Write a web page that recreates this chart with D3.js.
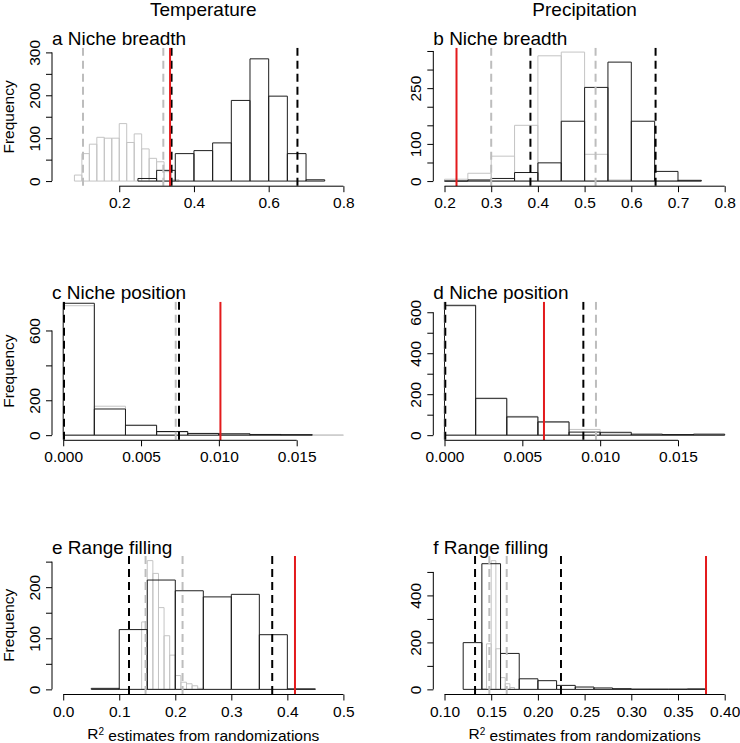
<!DOCTYPE html>
<html>
<head>
<meta charset="utf-8">
<script src="https://cdnjs.cloudflare.com/ajax/libs/d3/7.8.5/d3.min.js"></script>
<style>
  body { margin: 0; background: #fff; }
  text { font-family: "Liberation Sans", Arial, sans-serif; fill: #000; }
</style>
</head>
<body>
<svg id="chart" width="740" height="743"></svg>
<script>
// ---- a: Temperature, niche breadth
const aXlim = [0.05, 0.8], aYlim = [0, 299];
const aBlackBreaks = [0.25, 0.30, 0.35, 0.40, 0.45, 0.50, 0.55, 0.60, 0.65, 0.70, 0.75];
const aBlackCounts = [6, 25, 64, 71, 89, 188, 285, 198, 64, 3];
const aGrayBreaks = [0.08, 0.10, 0.12, 0.14, 0.16, 0.18, 0.20, 0.22, 0.24, 0.26, 0.28, 0.30, 0.32, 0.34, 0.36];
const aGrayCounts = [14, 64, 86, 102, 100, 100, 134, 90, 110, 75, 53, 45, 22, 3];
const aGrayQ = [0.103, 0.318], aBlackQ = [0.340, 0.677], aObs = 0.336;
const aXTicks = [0.2, 0.4, 0.6, 0.8], aXLabels = ["0.2", "0.4", "0.6", "0.8"];
const aYTicks = [0, 50, 100, 150, 200, 250, 300], aYLabels = [0, 100, 200, 300];

// ---- b: Precipitation, niche breadth
const bXlim = [0.2, 0.8], bYlim = [0, 345];
const bBreaks = [0.20, 0.25, 0.30, 0.35, 0.40, 0.45, 0.50, 0.55, 0.60, 0.65, 0.70, 0.75];
const bBlackCounts = [0, 3, 7, 23, 49, 161, 252, 320, 161, 26, 2];
const bGrayCounts = [5, 21, 67, 150, 337, 347, 72, 3, 0, 0, 0];
const bGrayQ = [0.300, 0.5235], bBlackQ = [0.384, 0.652], bObs = 0.2257;
const bXTicks = [0.2, 0.3, 0.4, 0.5, 0.6, 0.7, 0.8], bXLabels = ["0.2", "0.3", "0.4", "0.5", "0.6", "0.7", "0.8"];
const bYTicks = [0, 50, 100, 150, 200, 250, 300, 350], bYLabels = [0, 100, 250];

// ---- c: Temperature, niche position
const cXlim = [0, 0.018], cYlim = [0, 735];
const cBlackBreaks = [0, 0.002, 0.004, 0.006, 0.008, 0.010, 0.012, 0.014, 0.016];
const cBlackCounts = [756, 150, 57, 21, 10, 8, 4, 3];
const cGrayBreaks = [0, 0.002, 0.004, 0.006, 0.008, 0.010, 0.012, 0.014, 0.016, 0.018];
const cGrayCounts = [742, 166, 55, 18, 9, 4, 2, 1, 1];
const cGrayQ = [0.0, 0.00723], cBlackQ = [0.00005, 0.00744], cObs = 0.0101;
const cXTicks = [0, 0.005, 0.010, 0.015], cXLabels = ["0.000", "0.005", "0.010", "0.015"];
const cYTicks = [0, 200, 400, 600], cYLabels = [0, 200, 600];

// ---- d: Precipitation, niche position
const dXlim = [0, 0.018], dYlim = [0, 626];
const dBreaks = [0, 0.002, 0.004, 0.006, 0.008, 0.010, 0.012, 0.014, 0.016, 0.018];
const dBlackCounts = [634, 180, 89, 65, 15, 14, 5, 3, 5];
const dGrayCounts = [630, 178, 92, 62, 28, 6, 0, 0, 0];
const dGrayQ = [0.0, 0.00973], dBlackQ = [0.00005, 0.00892], dObs = 0.00639;
const dXTicks = [0, 0.005, 0.010, 0.015], dXLabels = ["0.000", "0.005", "0.010", "0.015"];
const dYTicks = [0, 100, 200, 300, 400, 500, 600], dYLabels = [0, 200, 400, 600];

// ---- e: Temperature, range filling
const eXlim = [0, 0.5], eYlim = [0, 251];
const eBlackBreaks = [0.05, 0.10, 0.15, 0.20, 0.25, 0.30, 0.35, 0.40, 0.45];
const eBlackCounts = [2, 117, 214, 193, 181, 186, 107, 1];
const eGrayBreaks = [0.14, 0.15, 0.16, 0.17, 0.18, 0.19, 0.20, 0.21, 0.22, 0.23, 0.24, 0.25];
const eGrayCounts = [132, 252, 227, 160, 105, 67, 27, 14, 11, 7, 2];
const eGrayQ = [0.147, 0.213], eBlackQ = [0.1174, 0.373], eObs = 0.4136;
const eXTicks = [0, 0.1, 0.2, 0.3, 0.4, 0.5], eXLabels = ["0.0", "0.1", "0.2", "0.3", "0.4", "0.5"];
const eYTicks = [0, 50, 100, 150, 200, 250], eYLabels = [0, 100, 200];

// ---- f: Precipitation, range filling
const fXlim = [0.1, 0.4], fYlim = [0, 546];
const fBlackBreaks = [0.12, 0.14, 0.16, 0.18, 0.20, 0.22, 0.24, 0.26, 0.28, 0.30, 0.32, 0.34, 0.36, 0.38];
const fBlackCounts = [199, 535, 153, 45, 37, 17, 10, 6, 3, 1, 1, 1, 2];
const fGrayBreaks = [0.14, 0.145, 0.15, 0.155, 0.16, 0.165, 0.17, 0.175];
const fGrayCounts = [3, 194, 548, 173, 50, 24, 8];
const fGrayQ = [0.148, 0.1666], fBlackQ = [0.1327, 0.2247], fObs = 0.380;
const fXTicks = [0.10, 0.15, 0.20, 0.25, 0.30, 0.35, 0.40];
const fXLabels = ["0.10", "0.15", "0.20", "0.25", "0.30", "0.35", "0.40"];
const fYTicks = [0, 100, 200, 300, 400, 500], fYLabels = [0, 200, 400];

const colTitles = ["Temperature", "Precipitation"];

const panels = [
    { title: "a Niche breadth", col: 0, row: 0, xlim: aXlim, ylim: aYlim,
      black: [aBlackBreaks, aBlackCounts], gray: [aGrayBreaks, aGrayCounts],
      grayQ: aGrayQ, blackQ: aBlackQ, obs: aObs,
      xTicks: aXTicks, xLabels: aXLabels, yTicks: aYTicks, yLabels: aYLabels },
    { title: "b Niche breadth", col: 1, row: 0, xlim: bXlim, ylim: bYlim,
      black: [bBreaks, bBlackCounts], gray: [bBreaks, bGrayCounts],
      grayQ: bGrayQ, blackQ: bBlackQ, obs: bObs,
      xTicks: bXTicks, xLabels: bXLabels, yTicks: bYTicks, yLabels: bYLabels },
    { title: "c Niche position", col: 0, row: 1, xlim: cXlim, ylim: cYlim,
      black: [cBlackBreaks, cBlackCounts], gray: [cGrayBreaks, cGrayCounts],
      grayQ: cGrayQ, blackQ: cBlackQ, obs: cObs,
      xTicks: cXTicks, xLabels: cXLabels, yTicks: cYTicks, yLabels: cYLabels },
    { title: "d Niche position", col: 1, row: 1, xlim: dXlim, ylim: dYlim,
      black: [dBreaks, dBlackCounts], gray: [dBreaks, dGrayCounts],
      grayQ: dGrayQ, blackQ: dBlackQ, obs: dObs,
      xTicks: dXTicks, xLabels: dXLabels, yTicks: dYTicks, yLabels: dYLabels },
    { title: "e Range filling", col: 0, row: 2, xlim: eXlim, ylim: eYlim,
      black: [eBlackBreaks, eBlackCounts], gray: [eGrayBreaks, eGrayCounts],
      grayQ: eGrayQ, blackQ: eBlackQ, obs: eObs,
      xTicks: eXTicks, xLabels: eXLabels, yTicks: eYTicks, yLabels: eYLabels },
    { title: "f Range filling", col: 1, row: 2, xlim: fXlim, ylim: fYlim,
      black: [fBlackBreaks, fBlackCounts], gray: [fGrayBreaks, fGrayCounts],
      grayQ: fGrayQ, blackQ: fBlackQ, obs: fObs,
      xTicks: fXTicks, xLabels: fXLabels, yTicks: fYTicks, yLabels: fYLabels }
];

// layout (R-like plot regions)
const colLeft = [52, 433.3], plotW = 302.6;
const rowTop = [47.7, 301.8, 556], plotH = 138.5;
const grayCol = "#c4c4c4", redCol = "#e31a1c";

const svg = d3.select("#chart");

// R extends the axis range by 4% on each side
function expand(lim) {
    const r = lim[1] - lim[0];
    return [lim[0] - 0.04 * r, lim[1] + 0.04 * r];
}

function barPath(x, y, breaks, counts) {
    return counts.map((c, i) => {
        const x0 = x(breaks[i]), x1 = x(breaks[i + 1]);
        return `M${x0},${y(0)}V${y(c)}H${x1}V${y(0)}Z`;
    });
}

colTitles.forEach((t, i) => {
    svg.append("text")
        .attr("x", colLeft[i] + plotW / 2)
        .attr("y", 16)
        .attr("text-anchor", "middle")
        .style("font-size", "19px")
        .text(t);
});

panels.forEach((p, idx) => {
    const left = colLeft[p.col], top = rowTop[p.row];
    const bottom = top + plotH;
    const x = d3.scaleLinear().domain(expand(p.xlim)).range([left, left + plotW]);
    const y = d3.scaleLinear().domain(expand(p.ylim)).range([bottom, top]);

    const g = svg.append("g");

    svg.append("clipPath").attr("id", "clip" + idx)
        .append("rect")
        .attr("x", left).attr("y", top)
        .attr("width", plotW).attr("height", plotH);

    const plot = g.append("g").attr("clip-path", `url(#clip${idx})`);

    // gray histogram (first), then black one over it
    plot.selectAll(".gbar")
        .data(barPath(x, y, p.gray[0], p.gray[1]))
        .enter().append("path")
        .attr("d", d => d)
        .attr("fill", "none")
        .attr("stroke", grayCol)
        .attr("stroke-width", 1);

    plot.selectAll(".bbar")
        .data(barPath(x, y, p.black[0], p.black[1]))
        .enter().append("path")
        .attr("d", d => d)
        .attr("fill", "none")
        .attr("stroke", "#1e1e1e")
        .attr("stroke-width", 1);

    // quantile lines and observed value
    const vline = (v, color, dash) => plot.append("line")
        .attr("x1", x(v)).attr("x2", x(v))
        .attr("y1", top).attr("y2", bottom)
        .attr("stroke", color)
        .attr("stroke-width", 2)
        .attr("stroke-dasharray", dash);

    p.grayQ.forEach(v => vline(v, "#bdbdbd", "8,5"));
    p.blackQ.forEach(v => vline(v, "#000", "8,5"));
    vline(p.obs, redCol, null);

    // x axis
    const xa = g.append("g")
        .attr("transform", `translate(0,${bottom})`)
        .call(d3.axisBottom(x)
            .tickValues(p.xTicks)
            .tickFormat((d, i) => p.xLabels[i])
            .tickSizeInner(6)
            .tickSizeOuter(0)
            .tickPadding(5));
    xa.select(".domain")
        .attr("d", `M${x(p.xTicks[0])},0H${x(p.xTicks[p.xTicks.length - 1])}`);

    // y axis
    const ya = g.append("g")
        .attr("transform", `translate(${left},0)`)
        .call(d3.axisLeft(y)
            .tickValues(p.yTicks)
            .tickFormat(d => p.yLabels.includes(d) ? d : "")
            .tickSizeInner(6)
            .tickSizeOuter(0));
    ya.select(".domain")
        .attr("d", `M0,${y(p.yTicks[0])}V${y(p.yTicks[p.yTicks.length - 1])}`);
    ya.selectAll(".tick text")
        .attr("transform", "rotate(-90)")
        .attr("x", 0)
        .attr("y", -12.5)
        .attr("dy", 0)
        .attr("text-anchor", "middle");

    [xa, ya].forEach(a => {
        a.attr("font-family", null).attr("font-size", null);
        a.selectAll("text").style("font-size", "15.5px");
        a.selectAll("line, path").attr("stroke", "#000");
    });

    // panel title
    g.append("text")
        .attr("x", left)
        .attr("y", top - 2.5)
        .style("font-size", "19px")
        .text(p.title);

    if (p.col === 0) {
        g.append("text")
            .attr("transform", `translate(14,${top + plotH / 2}) rotate(-90)`)
            .attr("text-anchor", "middle")
            .style("font-size", "15.5px")
            .text("Frequency");
    }

    if (p.row === 2) {
        const lab = g.append("text")
            .attr("x", left + plotW / 2)
            .attr("y", bottom + 44.5)
            .attr("text-anchor", "middle")
            .style("font-size", "15.5px");
        lab.append("tspan").text("R");
        lab.append("tspan").attr("dy", "-0.45em").style("font-size", "10px").text("2");
        lab.append("tspan").attr("dy", "0.45em").text(" estimates from randomizations");
    }
});
</script>
</body>
</html>
